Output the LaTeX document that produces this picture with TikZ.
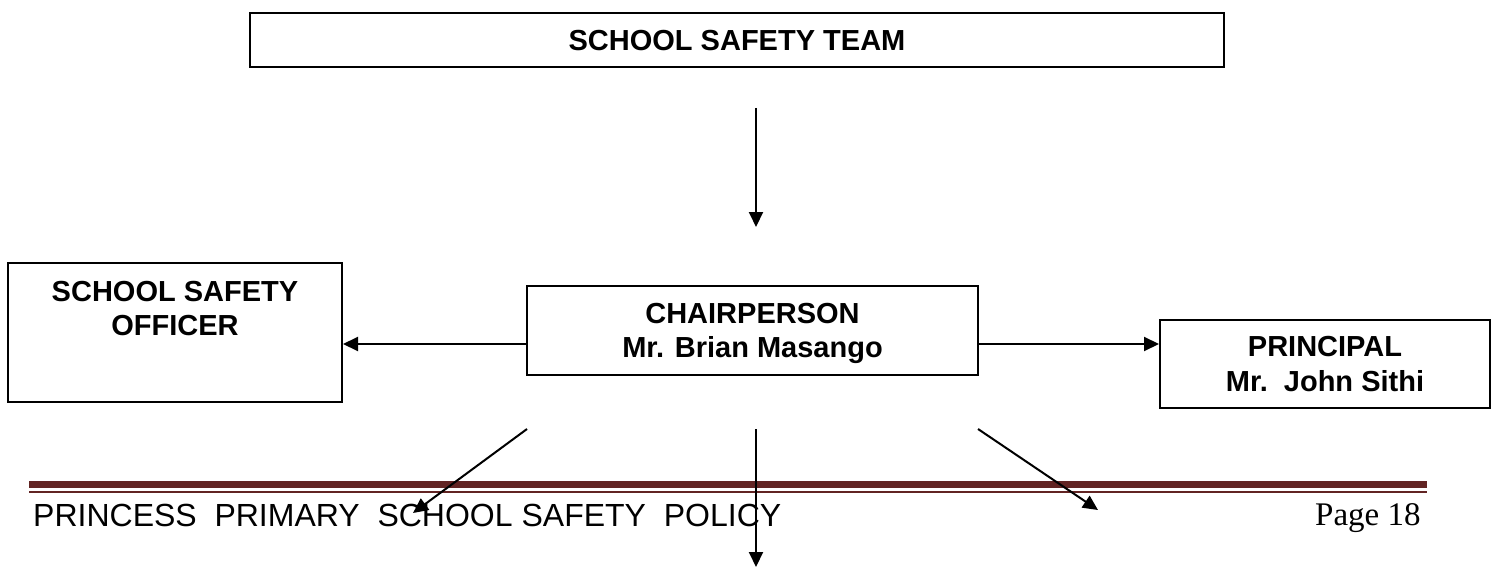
\documentclass[tikz,border=0pt]{standalone}
\usepackage{fontspec}
\setmainfont{Liberation Sans}
\newfontfamily\pagefont{Liberation Serif}
\usetikzlibrary{arrows.meta}
\definecolor{footred}{HTML}{622423}
\begin{document}
\begin{tikzpicture}[x=1pt,y=-1pt,
  box/.style={draw=black, line width=2pt, inner sep=0pt, align=center, text depth=0pt,
    font=\bfseries\fontsize{29}{35}\selectfont},
  boxtext/.style={inner sep=0pt, align=center, font=\bfseries\fontsize{29}{34}\selectfont},
  conn/.style={line width=2pt, -{Triangle[length=15pt,width=14pt]}},
  bar/.style={fill=footred, draw=none}]
\useasboundingbox (0,0) rectangle (1496,567);

% footer
\fill[bar] (29,481) rectangle (1427,488);
\fill[bar] (29,491) rectangle (1427,493);
\node[anchor=base west, inner sep=0pt, font=\fontsize{32}{38}\selectfont] (footer) at (33,526)
  {PRINCESS\ \ PRIMARY\ \ SCHOOL SAFETY\ \ POLICY};
\node[anchor=base west, inner sep=0pt, font=\pagefont\fontsize{33}{40}\selectfont] (page) at (1315,525) {Page 18};

% boxes
\node[box, minimum width=974pt, minimum height=54pt] (team) at (737,40) {SCHOOL SAFETY TEAM};
\node[box, minimum width=334pt, minimum height=139pt] (officer) at (175,332.5) {};
\node[boxtext] (officertxt) at (175,309) {SCHOOL SAFETY\\OFFICER};
\node[box, minimum width=451pt, minimum height=89pt, font=\bfseries\fontsize{29}{34}\selectfont] (chair) at (752.5,330.5) {CHAIRPERSON\\Mr. Brian Masango};
\node[box, minimum width=330pt, minimum height=88pt] (principal) at (1325,364) {PRINCIPAL\\Mr.\ \ John Sithi};

% connector coordinates
\coordinate (topstart) at (756,108);
\coordinate (topend) at (756,227);
\coordinate (hy) at (0,344);
\coordinate (dlstart) at (527,429);
\coordinate (dlend) at (413,513);
\coordinate (dmstart) at (756,429);
\coordinate (dmend) at (756,567);
\coordinate (drstart) at (978,429);
\coordinate (drend) at (1098,510);

% connectors
\draw[conn] (topstart) -- (topend);
\draw[conn] (chair.west |- hy) -- (officer.east |- hy);
\draw[conn] (chair.east |- hy) -- (principal.west |- hy);
\draw[conn] (dlstart) -- (dlend);
\draw[conn] (dmstart) -- (dmend);
\draw[conn] (drstart) -- (drend);
\end{tikzpicture}
\end{document}
